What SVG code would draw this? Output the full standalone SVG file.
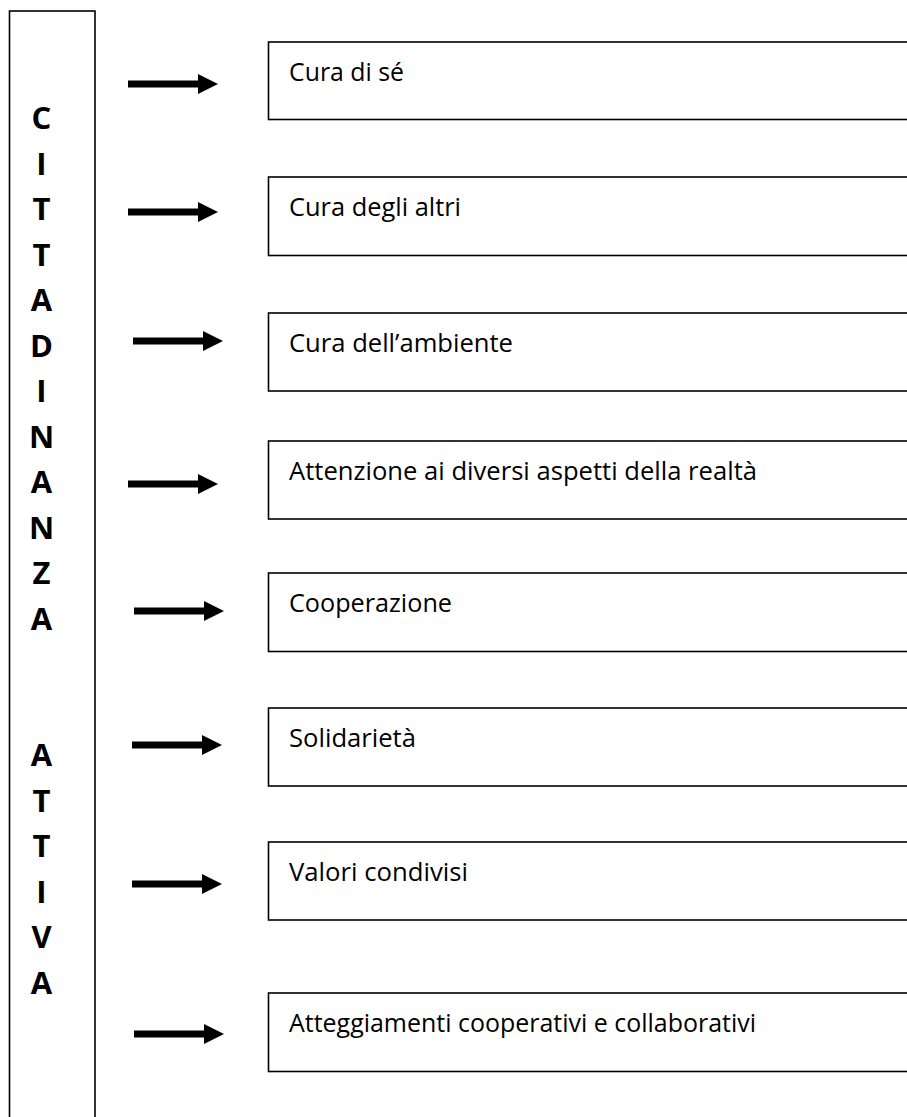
<svg xmlns="http://www.w3.org/2000/svg" width="907" height="1117" viewBox="0 0 907 1117">
<defs>
<style>
.bar{fill:#fff;stroke:#000;stroke-width:1.6}
.box{fill:#fff;stroke:#000;stroke-width:1.6}
.lbl{font-family:"Open Sans","Noto Sans",sans-serif;font-size:25px;fill:#000}
.big{font-family:"Open Sans","Noto Sans",sans-serif;font-size:31px;font-weight:bold;fill:#000;text-anchor:middle}
.arr{fill:#000}
</style>
<path id="arrow" class="arr" d="M0,-3.5 H70 V-10 L90,0 L70,10 V3.5 H0 Z"/>
</defs>
<rect width="907" height="1117" fill="#fff"/>
<g id="cittadinanza-attiva">
<rect class="bar" x="9.5" y="11" width="85.5" height="1120"/>
<text class="big" x="41.5" y="129">C</text>
<text class="big" x="41.5" y="174.5">I</text>
<text class="big" x="41.5" y="220">T</text>
<text class="big" x="41.5" y="265.5">T</text>
<text class="big" x="41.5" y="311">A</text>
<text class="big" x="41.5" y="356.5">D</text>
<text class="big" x="41.5" y="402">I</text>
<text class="big" x="41.5" y="447.5">N</text>
<text class="big" x="41.5" y="493">A</text>
<text class="big" x="41.5" y="538.5">N</text>
<text class="big" x="41.5" y="584">Z</text>
<text class="big" x="41.5" y="629.5">A</text>
<text class="big" x="41.5" y="766">A</text>
<text class="big" x="41.5" y="811.5">T</text>
<text class="big" x="41.5" y="857">T</text>
<text class="big" x="41.5" y="902.5">I</text>
<text class="big" x="41.5" y="948">V</text>
<text class="big" x="41.5" y="993.5">A</text>
</g>
<g id="connectors">
<use href="#arrow" x="128" y="84"/>
<use href="#arrow" x="128" y="212"/>
<use href="#arrow" x="133" y="341"/>
<use href="#arrow" x="128" y="484"/>
<use href="#arrow" x="134" y="611"/>
<use href="#arrow" x="132" y="745"/>
<use href="#arrow" x="132" y="884"/>
<use href="#arrow" x="134" y="1034"/>
</g>
<g id="n1"><rect class="box" x="268.5" y="42" width="660" height="77.5"/><text class="lbl" x="289" y="80.5" textLength="115" lengthAdjust="spacingAndGlyphs">Cura di sé</text></g>
<g id="n2"><rect class="box" x="268.5" y="177" width="660" height="78.5"/><text class="lbl" x="289" y="215.5" textLength="172" lengthAdjust="spacingAndGlyphs">Cura degli altri</text></g>
<g id="n3"><rect class="box" x="268.5" y="313" width="660" height="78"/><text class="lbl" x="289" y="351.5" textLength="224" lengthAdjust="spacingAndGlyphs">Cura dell’ambiente</text></g>
<g id="n4"><rect class="box" x="268.5" y="441" width="660" height="78"/><text class="lbl" x="289" y="479.5" textLength="468" lengthAdjust="spacingAndGlyphs">Attenzione ai diversi aspetti della realtà</text></g>
<g id="n5"><rect class="box" x="268.5" y="573" width="660" height="78.5"/><text class="lbl" x="289" y="611.5" textLength="163" lengthAdjust="spacingAndGlyphs">Cooperazione</text></g>
<g id="n6"><rect class="box" x="268.5" y="708" width="660" height="78"/><text class="lbl" x="289" y="746.5" textLength="127" lengthAdjust="spacingAndGlyphs">Solidarietà</text></g>
<g id="n7"><rect class="box" x="268.5" y="842" width="660" height="78"/><text class="lbl" x="289" y="880.5" textLength="179" lengthAdjust="spacingAndGlyphs">Valori condivisi</text></g>
<g id="n8"><rect class="box" x="268.5" y="993" width="660" height="78.5"/><text class="lbl" x="289" y="1031.5" textLength="467" lengthAdjust="spacingAndGlyphs">Atteggiamenti cooperativi e collaborativi</text></g>
</svg>
